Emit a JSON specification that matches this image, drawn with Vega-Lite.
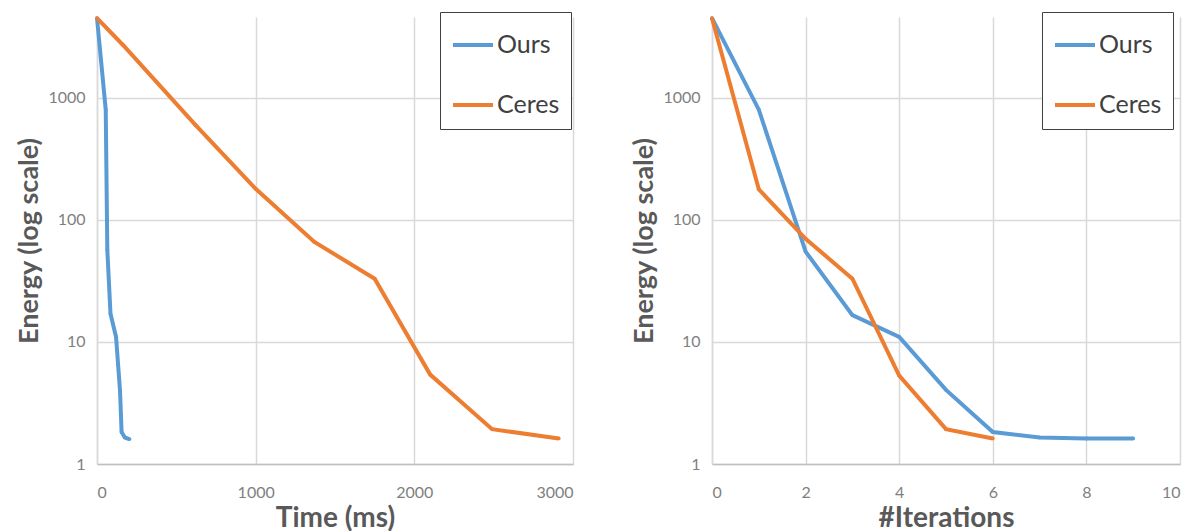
{
  "$schema": "https://vega.github.io/schema/vega-lite/v6.json",
  "padding": {"left": 15, "top": 10, "right": 5, "bottom": 0},
  "background": "white",
  "config": {
    "font": "Lato",
    "view": {"stroke": null},
    "concat": {"spacing": 57},
    "axis": {
      "gridColor": "#d9d9d9",
      "gridWidth": 1.5,
      "domainColor": "#bfbfbf",
      "domainWidth": 1.5,
      "ticks": false,
      "labelColor": "#7f7f7f",
      "labelFontSize": 16,
      "titleColor": "#595959",
      "titleFontWeight": "bold"
    },
    "legend": {
      "title": null,
      "orient": "none",
      "symbolType": "stroke",
      "symbolSize": 1600,
      "symbolStrokeWidth": 4,
      "labelFontSize": 25,
      "labelColor": "#404040",
      "labelFont": "Lato",
      "labelOffset": 2,
      "rowPadding": 25,
      "padding": 11,
      "strokeColor": "#404040",
      "fillColor": "white",
      "cornerRadius": 0
    }
  },
  "datasets": {
    "time": [
      {"series": "Ours", "t": 0, "energy": 4500},
      {"series": "Ours", "t": 55, "energy": 800},
      {"series": "Ours", "t": 65, "energy": 57},
      {"series": "Ours", "t": 85, "energy": 17},
      {"series": "Ours", "t": 120, "energy": 11},
      {"series": "Ours", "t": 145, "energy": 4},
      {"series": "Ours", "t": 155, "energy": 1.83},
      {"series": "Ours", "t": 175, "energy": 1.65},
      {"series": "Ours", "t": 190, "energy": 1.62},
      {"series": "Ours", "t": 205, "energy": 1.6},
      {"series": "Ceres", "t": 0, "energy": 4500},
      {"series": "Ceres", "t": 165, "energy": 2700},
      {"series": "Ceres", "t": 620, "energy": 600},
      {"series": "Ceres", "t": 1000, "energy": 180},
      {"series": "Ceres", "t": 1370, "energy": 66},
      {"series": "Ceres", "t": 1750, "energy": 33},
      {"series": "Ceres", "t": 2100, "energy": 5.4},
      {"series": "Ceres", "t": 2490, "energy": 1.93},
      {"series": "Ceres", "t": 2910, "energy": 1.62}
    ],
    "iter": [
      {"series": "Ours", "iteration": 0, "energy": 4500},
      {"series": "Ours", "iteration": 1, "energy": 800},
      {"series": "Ours", "iteration": 2, "energy": 55},
      {"series": "Ours", "iteration": 3, "energy": 16.6},
      {"series": "Ours", "iteration": 4, "energy": 11},
      {"series": "Ours", "iteration": 5, "energy": 4.05},
      {"series": "Ours", "iteration": 6, "energy": 1.83},
      {"series": "Ours", "iteration": 7, "energy": 1.65},
      {"series": "Ours", "iteration": 8, "energy": 1.62},
      {"series": "Ours", "iteration": 9, "energy": 1.62},
      {"series": "Ceres", "iteration": 0, "energy": 4500},
      {"series": "Ceres", "iteration": 1, "energy": 178},
      {"series": "Ceres", "iteration": 2, "energy": 70},
      {"series": "Ceres", "iteration": 3, "energy": 33},
      {"series": "Ceres", "iteration": 4, "energy": 5.3},
      {"series": "Ceres", "iteration": 5, "energy": 1.93},
      {"series": "Ceres", "iteration": 6, "energy": 1.62}
    ]
  },
  "hconcat": [
    {
      "width": 476,
      "height": 447,
      "data": {"name": "time"},
      "mark": {"type": "line", "strokeWidth": 4, "point": {"filled": true, "size": 14}},
      "encoding": {
        "x": {
          "field": "t", "type": "quantitative",
          "scale": {"domain": [0, 3000], "nice": false},
          "axis": {"values": [0, 1000, 2000, 3000], "title": "Time (ms)", "titleFontSize": 28, "labelPadding": 20, "titlePadding": 4, "format": "d"}
        },
        "y": {
          "field": "energy", "type": "quantitative",
          "scale": {"type": "log", "domain": [1, 4600], "nice": false},
          "axis": {"values": [1, 10, 100, 1000], "format": "d", "title": "Energy (log scale)", "titleFontSize": 27, "labelPadding": 12, "titlePadding": 4, "domainColor": "#d9d9d9"}
        },
        "color": {
          "field": "series", "type": "nominal",
          "scale": {"domain": ["Ours", "Ceres"], "range": ["#5B9BD5", "#ED7D31"]},
          "legend": {"legendX": 343, "legendY": -5}
        }
      }
    },
    {
      "width": 468,
      "height": 447,
      "data": {"name": "iter"},
      "mark": {"type": "line", "strokeWidth": 4, "point": {"filled": true, "size": 14}},
      "encoding": {
        "x": {
          "field": "iteration", "type": "quantitative",
          "scale": {"domain": [0, 10], "nice": false},
          "axis": {"values": [0, 2, 4, 6, 8, 10], "title": "#Iterations", "titleFontSize": 28, "labelPadding": 20, "titlePadding": 4, "format": "d"}
        },
        "y": {
          "field": "energy", "type": "quantitative",
          "scale": {"type": "log", "domain": [1, 4600], "nice": false},
          "axis": {"values": [1, 10, 100, 1000], "format": "d", "title": "Energy (log scale)", "titleFontSize": 27, "labelPadding": 12, "titlePadding": 4, "domainColor": "#d9d9d9"}
        },
        "color": {
          "field": "series", "type": "nominal",
          "scale": {"domain": ["Ours", "Ceres"], "range": ["#5B9BD5", "#ED7D31"]},
          "legend": {"legendX": 330, "legendY": -5}
        }
      }
    }
  ],
  "resolve": {"legend": {"color": "independent"}, "scale": {"color": "independent"}}
}
